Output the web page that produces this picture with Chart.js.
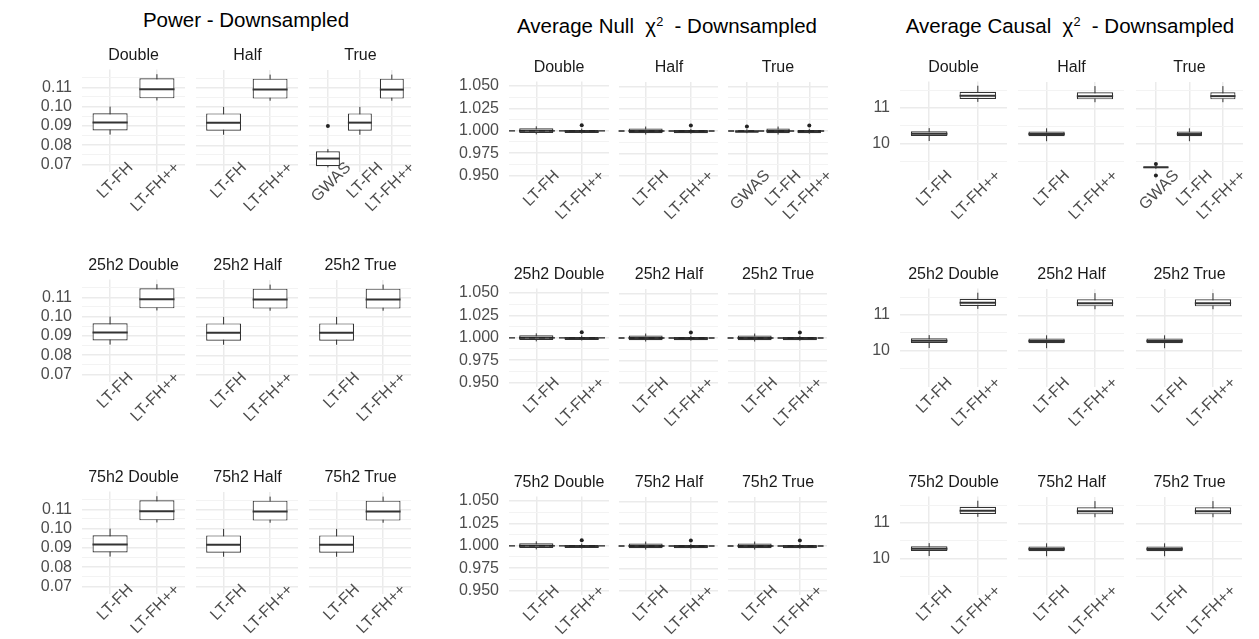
<!DOCTYPE html>
<html>
<head>
<meta charset="utf-8">
<script src="https://cdn.jsdelivr.net/npm/chart.js@4.4.0/dist/chart.umd.min.js"></script>
<style>
  body { margin: 0; width: 1259px; height: 639px; overflow: hidden; background: #fff; position: relative;
         font-family: 'Liberation Sans', Arial, sans-serif; }
  canvas { position: absolute; }
  .title { position: absolute; font-size: 20.5px; color: #000; white-space: nowrap; transform: translate(-50%, -50%); }
  .title sup { font-size: 0.62em; }
  .strip { position: absolute; font-size: 16px; color: #1a1a1a; white-space: nowrap; transform: translate(-50%, -50%); }
</style>
</head>
<body>
<script>
// categories
const rowPrefixes = ['', '25h2 ', '75h2 '];
const facetNames = ['Double', 'Half', 'True'];
const catsTwo = ['LT-FH', 'LT-FH++'];
const catsThree = ['GWAS', 'LT-FH', 'LT-FH++'];   // only first row, "True"

// box stats : [whisker low, Q1, median, Q3, whisker high]
const powerStats = {
  'GWAS':    [0.0685, 0.0691, 0.0731, 0.0769, 0.0780],
  'LT-FH':   [0.0855, 0.0876, 0.0918, 0.0966, 0.1000],
  'LT-FH++': [0.1032, 0.1043, 0.1090, 0.1147, 0.1168]
};
const powerOutliers = { 'GWAS': [0.0900] };

const nullStats = {
  'GWAS':    [0.9975, 0.9980, 0.9995, 1.0008, 1.0020],
  'LT-FH':   [0.9960, 0.9975, 1.0000, 1.0028, 1.0050],
  'LT-FH++': [0.9970, 0.9975, 0.9995, 1.0010, 1.0025]
};
const nullOutliers = { 'GWAS': [1.0050], 'LT-FH++': [1.0062] };

const causalStats = {
  'GWAS':    [9.31, 9.33, 9.35, 9.37, 9.39],
  'LT-FH':   [10.08, 10.22, 10.28, 10.35, 10.44],
  'LT-FH++': [11.17, 11.25, 11.34, 11.45, 11.62]
};
const causalOutliers = { 'GWAS': [9.44, 9.12] };

// y axis ticks
const powerMajor = [0.07, 0.08, 0.09, 0.10, 0.11];
const powerMinor = [0.075, 0.085, 0.095, 0.105, 0.115];
const nullMajor = [0.950, 0.975, 1.000, 1.025, 1.050];
const nullMinor = [0.9625, 0.9875, 1.0125, 1.0375];
const causalMajor = [10, 11];
const causalMinor = [9.5, 10.5, 11.5];

// layout of the three figures
const panels = [
  { title: 'Power - Downsampled', tx: 246, ty: 20,
    stats: powerStats, outliers: powerOutliers, major: powerMajor, minor: powerMinor, dec: 2,
    min: 0.0661, max: 0.1192, ref: null,
    lefts: [82, 196, 309], width: 103, tops: [70, 280, 492], height: 102 },
  { title: 'Average Null&nbsp; χ<sup>2</sup>&nbsp; - Downsampled', tx: 667, ty: 26,
    stats: nullStats, outliers: nullOutliers, major: nullMajor, minor: nullMinor, dec: 3,
    min: 0.945, max: 1.055, ref: 1,
    lefts: [509, 619, 728], width: 100, tops: [82, 289, 497], height: 98 },
  { title: 'Average Causal&nbsp; χ<sup>2</sup>&nbsp; - Downsampled', tx: 1070, ty: 26,
    stats: causalStats, outliers: causalOutliers, major: causalMajor, minor: causalMinor, dec: 0,
    min: 8.995, max: 11.735, ref: null,
    lefts: [900, 1018, 1136], width: 107, tops: [82, 289, 497], height: 98 }
];

const lineCol = '#333333';

// whiskers, medians and dashed reference line
const boxExtras = {
  id: 'boxExtras',
  beforeDatasetsDraw(chart) {
    const ctx = chart.ctx, y = chart.scales.y;
    const stats = chart.data.datasets[0].stats;
    ctx.save();
    ctx.strokeStyle = lineCol;
    ctx.lineWidth = 1;
    chart.getDatasetMeta(0).data.forEach((bar, i) => {
      const s = stats[i];
      ctx.beginPath();
      ctx.moveTo(bar.x, y.getPixelForValue(s[0]));
      ctx.lineTo(bar.x, y.getPixelForValue(s[4]));
      ctx.stroke();
    });
    ctx.restore();
  },
  afterDatasetsDraw(chart, args, opts) {
    const ctx = chart.ctx, y = chart.scales.y, area = chart.chartArea;
    const stats = chart.data.datasets[0].stats;
    ctx.save();
    ctx.strokeStyle = lineCol;
    ctx.lineWidth = 2;
    chart.getDatasetMeta(0).data.forEach((bar, i) => {
      const py = y.getPixelForValue(stats[i][2]);
      ctx.beginPath();
      ctx.moveTo(bar.x - bar.width / 2, py);
      ctx.lineTo(bar.x + bar.width / 2, py);
      ctx.stroke();
    });
    if (opts.ref != null) {
      const py = y.getPixelForValue(opts.ref);
      ctx.strokeStyle = '#222';
      ctx.lineWidth = 1.3;
      ctx.setLineDash([6, 4]);
      ctx.beginPath();
      ctx.moveTo(area.left, py);
      ctx.lineTo(area.right, py);
      ctx.stroke();
    }
    ctx.restore();
  }
};

function addText(cls, html, x, y) {
  const d = document.createElement('div');
  d.className = cls;
  d.innerHTML = html;
  d.style.left = x + 'px';
  d.style.top = y + 'px';
  document.body.appendChild(d);
}

function makeFacet(p, r, c) {
  const cats = (r === 0 && c === 2) ? catsThree : catsTwo;
  const stats = cats.map(k => p.stats[k]);
  const outs = [];
  cats.forEach((k, i) => (p.outliers[k] || []).forEach(v => outs.push({ x: i + 1, y: v })));
  const ticks = p.major.concat(p.minor).sort((a, b) => a - b);
  const yw = c === 0 ? 70 : 0, axisH = 62;

  const canvas = document.createElement('canvas');
  canvas.width = yw + p.width + 20;
  canvas.height = p.height + axisH + 20;
  document.body.appendChild(canvas);

  addText('strip', rowPrefixes[r] + facetNames[c], p.lefts[c] + p.width / 2, p.tops[r] - 15);

  const chart = new Chart(canvas, {
    type: 'bar',
    data: {
      datasets: [
        {
          type: 'bar',
          data: stats.map((s, i) => ({ x: i + 1, y: [s[1], s[3]] })),
          stats: stats,
          backgroundColor: '#ffffff',
          borderColor: lineCol,
          borderWidth: 1.2,
          borderSkipped: false,
          barPercentage: 0.75,
          categoryPercentage: 1
        },
        {
          type: 'scatter',
          data: outs,
          pointRadius: 2,
          backgroundColor: '#222',
          borderWidth: 0
        }
      ]
    },
    options: {
      responsive: false,
      maintainAspectRatio: false,
      animation: false,
      events: [],
      layout: { padding: { left: 0, right: 0, top: 4, bottom: 0 } },
      plugins: { legend: { display: false }, tooltip: { enabled: false }, boxExtras: { ref: p.ref } },
      scales: {
        x: {
          type: 'linear', min: 0.4, max: cats.length + 0.6, bounds: 'data', offset: false,
          afterBuildTicks: s => { s.ticks = cats.map((_, i) => ({ value: i + 1 })); },
          afterFit: s => { s.height = axisH; },
          ticks: { autoSkip: false, minRotation: 45, maxRotation: 45, mirror: true, labelOffset: 34, padding: 0,
                   color: '#4d4d4d', font: { size: 16, family: "'Liberation Sans', Arial, sans-serif" },
                   callback: v => cats[v - 1] },
          grid: { color: '#ebebeb', lineWidth: 1.5, drawTicks: false, offset: false },
          border: { display: false }
        },
        y: {
          type: 'linear', min: p.min, max: p.max, bounds: 'data',
          afterBuildTicks: s => { s.ticks = ticks.map(v => ({ value: v })); },
          afterFit: s => { s.width = yw; },
          ticks: { display: c === 0, autoSkip: false, padding: 10,
                   color: '#4d4d4d', font: { size: 16, family: "'Liberation Sans', Arial, sans-serif" },
                   callback: v => p.major.includes(v) ? v.toFixed(p.dec) : '' },
          grid: {
            drawTicks: false,
            color: ctx => p.major.includes(ctx.tick && ctx.tick.value) ? '#ebebeb' : '#f3f3f3',
            lineWidth: ctx => p.major.includes(ctx.tick && ctx.tick.value) ? 1.5 : 1
          },
          border: { display: false }
        }
      }
    },
    plugins: [boxExtras]
  });

  // grow the canvas until the plot area has the wanted size, then place it
  for (let k = 0; k < 3; k++) {
    const a = chart.chartArea;
    const w = canvas.width + Math.round(p.width - (a.right - a.left));
    const h = canvas.height + Math.round(p.height - (a.bottom - a.top));
    if (w === canvas.width && h === canvas.height) break;
    chart.resize(w, h);
  }
  const b = chart.chartArea;
  canvas.style.left = Math.round(p.lefts[c] - b.left) + 'px';
  canvas.style.top = Math.round(p.tops[r] - b.top) + 'px';
}

panels.forEach(p => {
  addText('title', p.title, p.tx, p.ty);
  for (let r = 0; r < 3; r++) {
    for (let c = 0; c < 3; c++) makeFacet(p, r, c);
  }
});
</script>
</body>
</html>
